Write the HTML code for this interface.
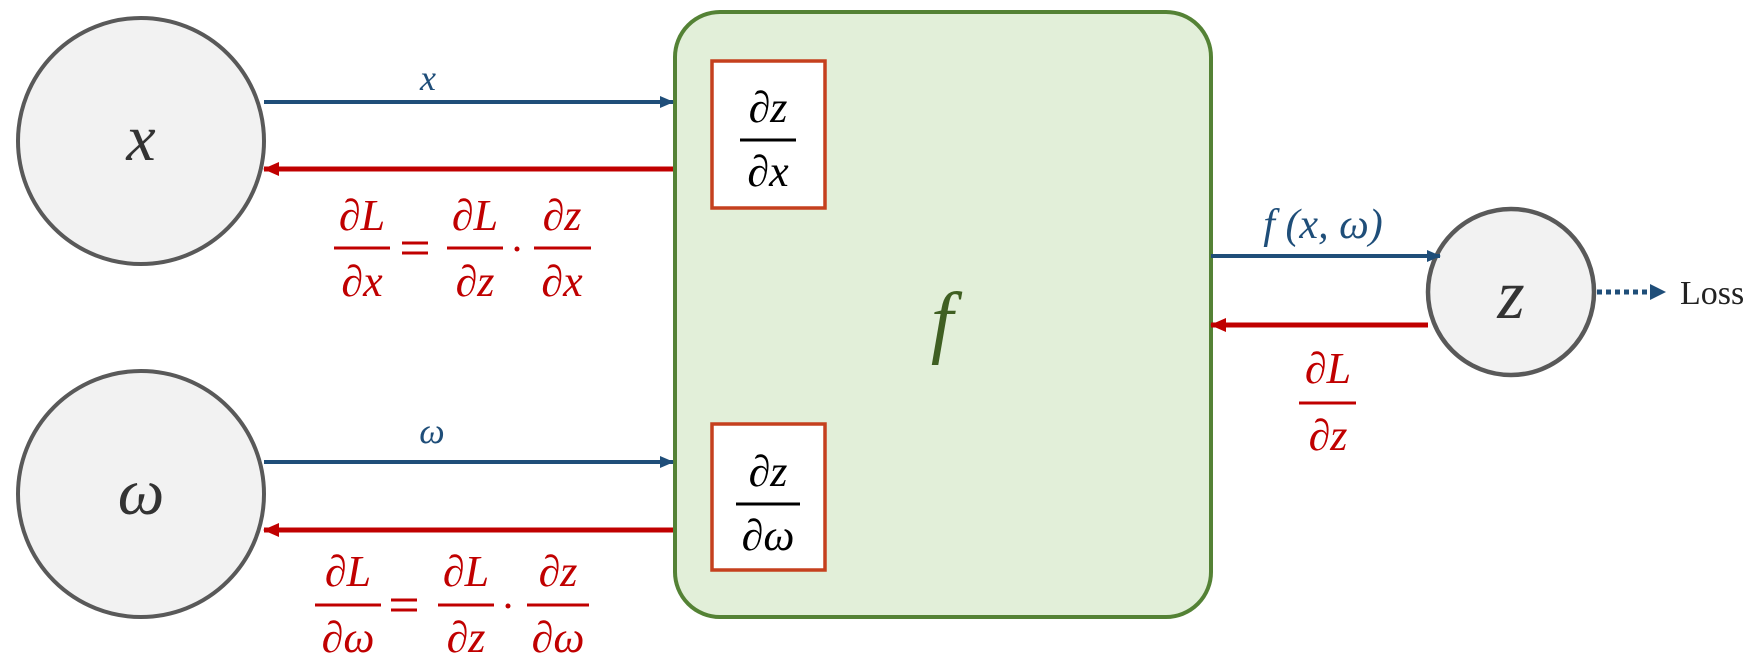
<!DOCTYPE html>
<html><head><meta charset="utf-8"><style>
html,body{margin:0;padding:0;background:#fff;}
svg{display:block;}
text{font-family:"Liberation Serif",serif;}
.m{font-style:italic;}
</style></head><body>
<svg width="1760" height="670" viewBox="0 0 1760 670" xmlns="http://www.w3.org/2000/svg">
<defs>
<marker id="ab" markerWidth="14" markerHeight="14" refX="13" refY="7" orient="auto" markerUnits="userSpaceOnUse"><path d="M0,1 L14,7 L0,13 z" fill="#1f4e79"/></marker>
<marker id="ar" markerWidth="16" markerHeight="16" refX="15" refY="8" orient="auto" markerUnits="userSpaceOnUse"><path d="M0,1 L16,8 L0,15 z" fill="#c00000"/></marker>
</defs>
<rect x="675" y="12" width="536" height="605" rx="45" fill="#e2efd9" stroke="#548235" stroke-width="4"/>
<text x="942" y="348" class="m" font-size="80" fill="#3f5f22" text-anchor="middle">f</text>
<rect x="712" y="61" width="113" height="147" fill="#fff" stroke="#c5401e" stroke-width="3.5"/>
<text x="768" y="122" class="m" font-size="44" text-anchor="middle">∂z</text>
<line x1="740" y1="140" x2="796" y2="140" stroke="#000" stroke-width="3"/>
<text x="768" y="186" class="m" font-size="44" text-anchor="middle">∂x</text>
<rect x="712" y="424" width="113" height="146" fill="#fff" stroke="#c5401e" stroke-width="3.5"/>
<text x="768" y="486" class="m" font-size="44" text-anchor="middle">∂z</text>
<line x1="736" y1="504" x2="800" y2="504" stroke="#000" stroke-width="3"/>
<text x="768" y="550" class="m" font-size="44" text-anchor="middle">∂ω</text>
<circle cx="141" cy="141" r="123" fill="#f2f2f2" stroke="#595959" stroke-width="4"/>
<text x="141" y="160" class="m" font-size="66" fill="#333" text-anchor="middle">x</text>
<circle cx="141" cy="494" r="123" fill="#f2f2f2" stroke="#595959" stroke-width="4"/>
<text x="141" y="514" class="m" font-size="66" fill="#333" text-anchor="middle">ω</text>
<circle cx="1511" cy="292" r="83" fill="#f2f2f2" stroke="#595959" stroke-width="4.5"/>
<text x="1511" y="318" class="m" font-size="70" fill="#333" text-anchor="middle">z</text>
<line x1="264" y1="102" x2="673" y2="102" stroke="#1f4e79" stroke-width="4" marker-end="url(#ab)"/>
<text x="428" y="90" class="m" font-size="36" fill="#1f4e79" text-anchor="middle">x</text>
<line x1="673" y1="169" x2="264" y2="169" stroke="#c00000" stroke-width="5" marker-end="url(#ar)"/>
<g fill="#c00000" class="m" font-size="44" text-anchor="middle">
<text x="362" y="230">∂L</text><text x="362" y="296">∂x</text>
<text x="475" y="230">∂L</text><text x="475" y="296">∂z</text>
<text x="562" y="230">∂z</text><text x="562" y="296">∂x</text>
</g>
<g stroke="#c00000" stroke-width="3">
<line x1="334" y1="248" x2="390" y2="248"/>
<line x1="447" y1="248" x2="503" y2="248"/>
<line x1="534" y1="248" x2="591" y2="248"/>
<line x1="402" y1="243" x2="428" y2="243"/><line x1="402" y1="253" x2="428" y2="253"/>
</g>
<circle cx="517" cy="249" r="2.5" fill="#c00000"/>
<line x1="264" y1="462" x2="673" y2="462" stroke="#1f4e79" stroke-width="4" marker-end="url(#ab)"/>
<text x="432" y="443" class="m" font-size="36" fill="#1f4e79" text-anchor="middle">ω</text>
<line x1="673" y1="530" x2="264" y2="530" stroke="#c00000" stroke-width="5" marker-end="url(#ar)"/>
<g fill="#c00000" class="m" font-size="44" text-anchor="middle">
<text x="348" y="586">∂L</text><text x="348" y="652">∂ω</text>
<text x="466" y="586">∂L</text><text x="466" y="652">∂z</text>
<text x="558" y="586">∂z</text><text x="558" y="652">∂ω</text>
</g>
<g stroke="#c00000" stroke-width="3">
<line x1="315" y1="605" x2="381" y2="605"/>
<line x1="438" y1="605" x2="494" y2="605"/>
<line x1="527" y1="605" x2="589" y2="605"/>
<line x1="391" y1="600" x2="417" y2="600"/><line x1="391" y1="610" x2="417" y2="610"/>
</g>
<circle cx="508" cy="606" r="2.5" fill="#c00000"/>
<line x1="1211" y1="256" x2="1440" y2="256" stroke="#1f4e79" stroke-width="4" marker-end="url(#ab)"/>
<text x="1323" y="238" class="m" font-size="42" fill="#1f4e79" text-anchor="middle">f (x, ω)</text>
<line x1="1428" y1="325" x2="1211" y2="325" stroke="#c00000" stroke-width="5" marker-end="url(#ar)"/>
<g fill="#c00000" class="m" font-size="44" text-anchor="middle">
<text x="1328" y="383">∂L</text><text x="1328" y="450">∂z</text>
</g>
<line x1="1299" y1="403" x2="1356" y2="403" stroke="#c00000" stroke-width="3"/>
<line x1="1597" y1="292" x2="1652" y2="292" stroke="#1f4e79" stroke-width="5" stroke-dasharray="5,4"/>
<path d="M1650,284 L1666,292 L1650,300 z" fill="#1f4e79"/>
<text x="1680" y="304" font-size="34" fill="#222">Loss</text>
</svg>
</body></html>
